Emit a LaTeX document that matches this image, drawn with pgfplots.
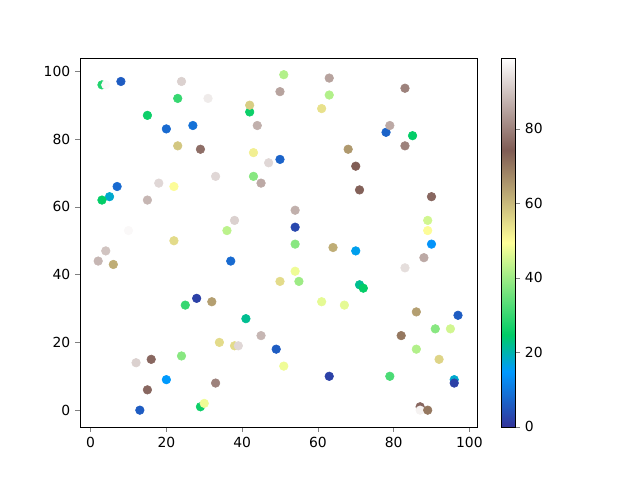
\documentclass[border=0pt]{standalone}
\usepackage{pgfplots}
\pgfplotsset{compat=1.18}
\usepackage{fontspec}
\setmainfont{DejaVu Sans}
\pgfplotstableread{
x y c
3 96 28
4 96 98
8 97 6
24 97 92
23 92 30
31 92 96
42 88 26
42 90 57
15 87 26
50 94 85
51 99 42
20 83 8
27 84 9
44 84 87
23 78 58
29 77 77
43 76 52
47 73 93
50 74 7
33 69 93
43 69 38
45 67 86
7 66 8
18 67 93
22 66 50
5 63 18
3 62 25
15 62 88
10 53 98
22 50 55
36 53 43
38 56 92
63 98 85
63 93 42
61 89 54
83 95 80
78 82 7
79 84 86
85 81 25
83 78 80
68 77 65
70 72 74
71 65 75
90 63 76
54 59 87
54 54 3
89 56 45
89 53 50
90 49 14
54 49 38
64 48 62
4 47 90
2 44 88
6 43 62
37 44 8
50 38 55
28 33 2
25 31 30
32 32 64
41 27 22
45 22 88
49 18 6
34 20 55
38 19 55
39 19 93
16 15 76
12 14 92
24 16 38
20 9 15
15 6 76
33 8 80
13 0 6
29 1 26
30 2 48
51 13 48
70 47 16
88 45 86
83 42 94
54 41 48
55 38 40
71 37 22
72 36 25
61 32 47
67 31 47
86 29 64
97 28 6
91 24 38
95 24 45
82 22 70
86 18 42
92 15 56
63 10 2
79 10 32
96 9 18
96 8 2
87 1 76
87 0 97
89 0 70
}\datatable
\begin{document}
\begin{tikzpicture}
\path[use as bounding box] (0,0) rectangle (460.8pt,345.6pt);
\begin{axis}[
  at={(57.6pt,38.2pt)}, anchor=south west,
  width=285.8pt, height=265.7pt, scale only axis,
  xmin=-2.8, xmax=102, ymin=-4.95, ymax=103.95,
  xtick={0,20,40,60,80,100}, ytick={0,20,40,60,80,100},
  tick align=outside, major tick length=3.5pt,
  xtick pos=bottom, ytick pos=left,
  tick label style={font=\fontsize{10}{12}\selectfont},
  /pgf/number format/assume math mode=true,
  colormap={terrain}{rgb(0cm)=(0.2,0.2,0.6); rgb(1.5cm)=(0,0.6,1); rgb(2.5cm)=(0,0.8,0.4); rgb(5cm)=(1,1,0.6); rgb(7.5cm)=(0.5,0.36,0.33); rgb(10cm)=(1,1,1)},
  point meta min=0, point meta max=99,
  colorbar,
  colorbar style={
    at={(parent axis.north east)}, anchor=north west, xshift=9pt,
    width=10pt, ytick={0,20,40,60,80},
    tick align=outside, major tick length=3.5pt,
    yticklabel pos=right, ytick pos=right,
    tick label style={font=\fontsize{10}{12}\selectfont},
    /pgf/number format/assume math mode=true,
  },
]
\addplot[scatter, only marks, mark=*, mark size=3.1pt, scatter src=explicit,
  scatter/use mapped color={draw=mapped color, fill=mapped color}] table[x=x, y=y, meta=c] {\datatable};
\end{axis}
\end{tikzpicture}
\end{document}
